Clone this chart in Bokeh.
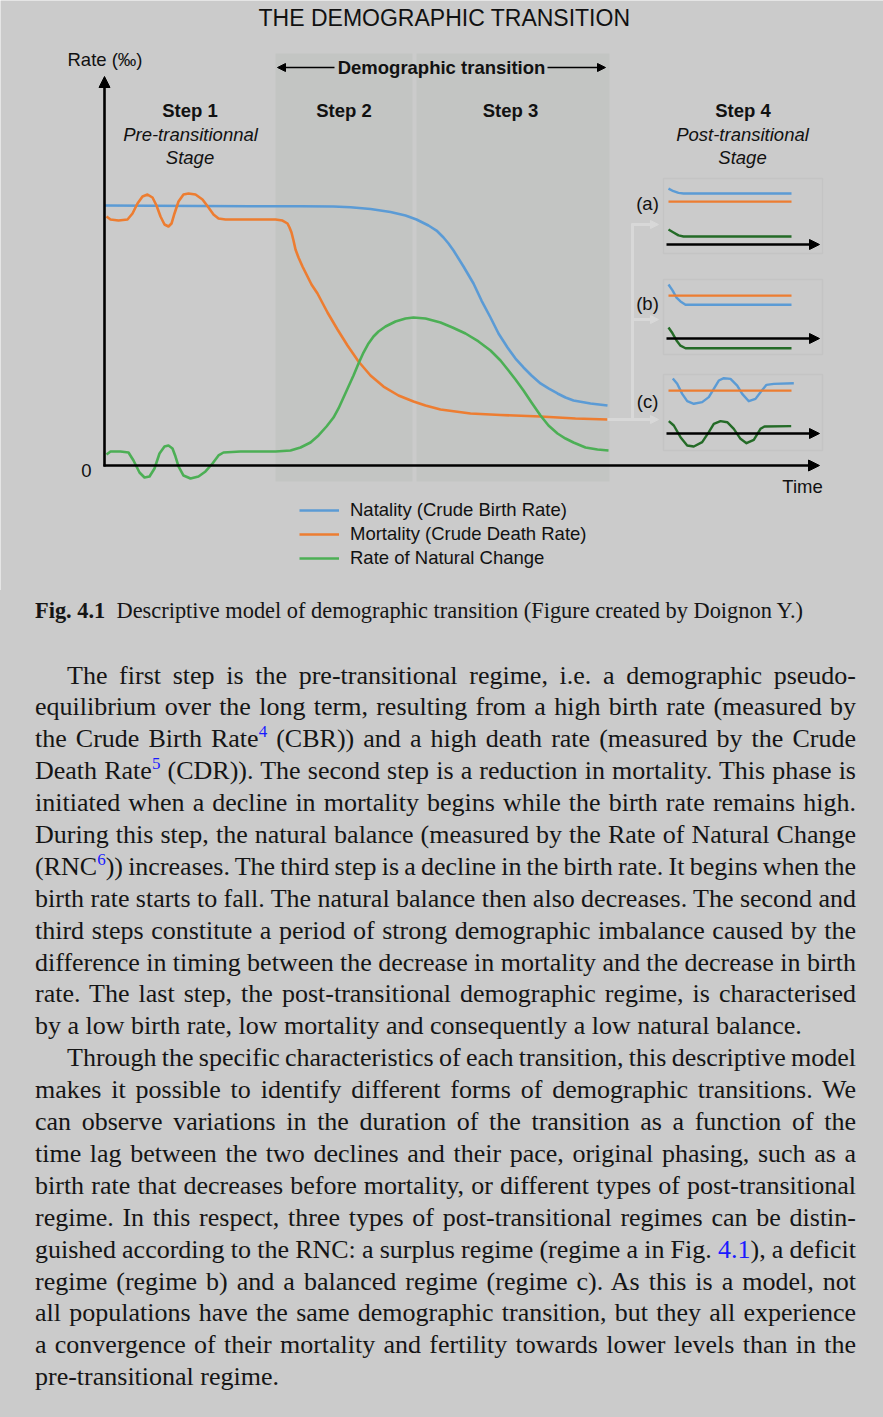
from bokeh.plotting import figure
from bokeh.models import (Range1d, Label, Arrow, NormalHead, Legend, LegendItem, Div)
from bokeh.layouts import column
from bokeh.embed import file_html
from bokeh.resources import INLINE

# ---------------- data (time units, rate in per mille) ----------------
natality_t = [0, 9.2, 19.2, 29.2, 39.2, 45.8, 49.2, 53.2, 57.2, 60.2, 62.4, 64.8, 66.4, 67.8,
              68.8, 69.8, 71.8, 73.8, 75.4, 77.2, 78.8, 80.6, 82.2, 83.8, 85.4, 87.2, 88.8,
              90.6, 92.2, 93.8, 97.2, 100.6]
natality_r = [40.0, 39.95, 39.92, 39.89, 39.88, 39.85, 39.72, 39.46, 39.0, 38.46, 37.85, 36.92,
              36.15, 35.08, 34.15, 33.08, 30.62, 28.0, 25.38, 22.77, 20.31, 18.15, 16.46, 15.08,
              13.85, 12.62, 11.85, 11.08, 10.46, 10.0, 9.54, 9.23]

mortality_t = [0.4, 1.2, 2.8, 4.6, 5.6, 6.6, 7.6, 8.6, 9.6, 10.4, 11.2, 12.0, 12.8, 13.4, 14.0,
               14.8, 15.8, 16.8, 18.2, 19.6, 20.8, 21.8, 22.8, 24.2, 29.2, 34.2, 35.6, 36.6,
               37.0, 37.4, 37.8, 38.2, 38.8, 39.6, 40.4, 41.4, 42.6, 44.6, 46.6, 48.6, 50.8,
               53.2, 55.8, 58.8, 61.8, 64.2, 67.2, 73.2, 79.2, 87.2, 94.2, 100.6]
mortality_r = [38.31, 37.85, 37.69, 37.85, 38.77, 40.31, 41.38, 41.69, 41.23, 40.0, 38.31, 37.08,
               36.77, 37.23, 38.77, 40.62, 41.69, 41.85, 41.69, 40.92, 39.69, 38.62, 38.0, 37.85,
               37.85, 37.85, 37.69, 37.23, 36.62, 35.85, 34.62, 33.23, 32.0, 30.62, 29.38,
               27.85, 26.46, 23.54, 20.92, 18.46, 16.0, 13.85, 12.15, 10.77, 9.85, 9.23, 8.62,
               8.0, 7.77, 7.54, 7.23, 7.08]

rnc_t = [0.4, 1.2, 3.2, 4.8, 5.8, 7.0, 8.0, 9.0, 10.0, 11.0, 12.0, 12.8, 13.6, 14.2, 14.8, 15.8,
         17.2, 18.8, 20.2, 21.6, 22.8, 23.8, 27.2, 34.2, 37.2, 39.2, 41.2, 42.8, 44.4, 45.8,
         46.8, 47.8, 48.8, 49.8, 50.8, 51.8, 52.8, 53.8, 54.8, 56.2, 58.2, 60.2, 61.8, 64.2,
         67.2, 69.6, 72.2, 74.8, 77.2, 79.2, 80.8, 82.2, 83.8, 85.4, 87.2, 88.8, 90.6, 92.2,
         93.8, 96.2, 98.6, 100.8]
rnc_r = [1.69, 2.15, 2.15, 2.0, 0.77, -1.08, -1.85, -1.69, -0.46, 1.85, 2.92, 3.08, 2.62, 1.38,
         -0.15, -1.54, -2.0, -1.69, -0.92, 0.31, 1.54, 2.0, 2.15, 2.15, 2.31, 2.77, 3.54, 4.62,
         6.0, 7.38, 8.77, 10.46, 12.15, 13.85, 15.69, 17.38, 18.77, 19.85, 20.62, 21.38, 22.15,
         22.62, 22.77, 22.62, 22.0, 21.23, 20.31, 19.08, 17.69, 16.15, 14.62, 13.23, 11.54,
         9.69, 7.69, 6.15, 4.92, 4.15, 3.54, 2.77, 2.46, 2.31]

# post-transitional regimes (local time / rate units)
nat_a_u = [0.4, 1.4, 2.4, 3.4, 25.0]
nat_a_v = [8.6, 8.2, 7.95, 7.85, 7.85]
mort_a_u = [0.4, 25.0]
mort_a_v = [6.6, 6.6]
rnc_a_u = [0.4, 1.4, 2.4, 3.4, 25.0]
rnc_a_v = [2.3, 1.85, 1.4, 1.23, 1.23]

nat_b_u = [0.4, 1.2, 2.0, 2.8, 3.8, 25.0]
nat_b_v = [8.3, 7.4, 6.3, 5.7, 5.2, 5.2]
mort_b_u = [0.4, 25.0]
mort_b_v = [6.6, 6.6]
rnc_b_u = [0.4, 1.2, 2.0, 2.8, 3.8, 25.0]
rnc_b_v = [1.7, 0.8, -0.3, -1.1, -1.5, -1.5]

nat_c_u = [1.26, 2.14, 3.14, 4.14, 5.46, 7.14, 8.46, 9.46, 10.46, 11.46, 12.8, 14.14, 15.14,
           16.46, 17.8, 18.8, 20.0, 21.46, 25.46]
nat_c_v = [8.46, 7.65, 6.1, 4.97, 4.57, 4.82, 5.6, 6.87, 8.15, 8.51, 8.41, 7.38, 6.1, 4.97,
           5.33, 6.36, 7.49, 7.64, 7.74]
mort_c_u = [0.4, 25.0]
mort_c_v = [6.6, 6.6]
rnc_c_u = [0.46, 1.46, 2.8, 4.14, 5.46, 7.14, 8.46, 9.46, 10.8, 12.14, 13.46, 14.8, 16.0, 17.46,
           18.8, 19.6, 24.94]
rnc_c_v = [1.9, 1.23, -0.56, -1.85, -2.0, -1.33, 0.21, 1.49, 1.9, 1.74, 0.72, -0.82, -1.49,
           -0.97, 0.72, 1.08, 1.13]

step_labels = ["Step 1", "Step 2", "Step 3", "Step 4"]
legend_labels = ["Natality (Crude Birth Rate)", "Mortality (Crude Death Rate)",
                 "Rate of Natural Change"]

# ---------------- styling ----------------
BG = "#cbcbcb"
BAND = "#c3c5c3"
BLUE = "#5b9bd5"
ORANGE = "#ed7d31"
GREEN = "#4caf55"
DKGREEN = "#246b27"
LIGHT = "#d8d8d8"
INK = "#111111"
SANS = "Liberation Sans"

PAGE_W, PAGE_H = 883, 1417
W, H = PAGE_W, 590


def tx(px):
    return (px - 104) / 5.0


def ry(py):
    return (465 - py) / 6.5


p = figure(width=W, height=H, title=None,
           x_range=Range1d(tx(0), tx(W)), y_range=Range1d(ry(H), ry(0)),
           output_backend="svg", toolbar_location=None,
           x_axis_location=None, y_axis_location=None, min_border=0,
           background_fill_color=BG, border_fill_color=BG, outline_line_color=None)
p.xgrid.visible = False
p.ygrid.visible = False

# bands for steps 2 and 3
p.quad(left=[tx(275), tx(416)], right=[tx(412), tx(609)],
       bottom=[ry(481), ry(481)], top=[ry(53), ry(53)],
       fill_color=BAND, line_color=None)

# connectors to the post-transitional panels
p.segment(x0=[tx(632)], y0=[ry(223)], x1=[tx(632)], y1=[ry(420)],
          line_color=LIGHT, line_width=3)
for (xa, ya) in [(631, 224), (631, 319), (607, 419)]:
    p.add_layout(Arrow(end=NormalHead(size=8, fill_color=LIGHT, line_color=LIGHT),
                       x_start=tx(xa), y_start=ry(ya), x_end=tx(658), y_end=ry(ya),
                       line_color=LIGHT, line_width=3))

# main curves
rb = p.line(natality_t, natality_r, line_color=BLUE, line_width=2.6, line_join="round")
ro = p.line(mortality_t, mortality_r, line_color=ORANGE, line_width=2.6, line_join="round")
rg = p.line(rnc_t, rnc_r, line_color=GREEN, line_width=2.6, line_join="round")

# axes with arrows
p.add_layout(Arrow(end=NormalHead(size=11, fill_color="black", line_color="black"),
                   x_start=0, y_start=ry(466), x_end=0, y_end=ry(76),
                   line_color="black", line_width=2.6))
p.add_layout(Arrow(end=NormalHead(size=11, fill_color="black", line_color="black"),
                   x_start=tx(103), y_start=0, x_end=tx(819), y_end=0,
                   line_color="black", line_width=2.6))

# post-transitional panels
panels = [
    (ry(244), ry(178), ry(253), nat_a_u, nat_a_v, mort_a_u, mort_a_v, rnc_a_u, rnc_a_v, "(a)", 203),
    (ry(338), ry(279), ry(354), nat_b_u, nat_b_v, mort_b_u, mort_b_v, rnc_b_u, rnc_b_v, "(b)", 303),
    (ry(433), ry(374), ry(450), nat_c_u, nat_c_v, mort_c_u, mort_c_v, rnc_c_u, rnc_c_v, "(c)", 401),
]
t0 = tx(666)
for (r0, top, bot, nu, nv, mu, mv, gu, gv, lab, ly) in panels:
    p.quad(left=[tx(663)], right=[tx(822)], top=[top], bottom=[bot],
           fill_color=None, line_color="#c4c4c4", line_width=1.5)
    p.line([t0 + u for u in nu], [r0 + v for v in nv], line_color=BLUE, line_width=2.4,
           line_join="round")
    p.line([t0 + u for u in mu], [r0 + v for v in mv], line_color=ORANGE, line_width=2.4)
    p.line([t0 + u for u in gu], [r0 + v for v in gv], line_color=DKGREEN, line_width=2.4,
           line_join="round")
    p.add_layout(Arrow(end=NormalHead(size=10, fill_color="black", line_color="black"),
                       x_start=t0, y_start=r0, x_end=tx(819), y_end=r0,
                       line_color="black", line_width=2.4))
    p.add_layout(Label(x=tx(647), y=ry(ly), text=lab, text_font=SANS,
                       text_font_size="18.5px", text_align="center",
                       text_baseline="middle", text_color=INK))

# demographic transition arrows
p.add_layout(Arrow(end=NormalHead(size=8, fill_color="black", line_color="black"),
                   x_start=tx(334), y_start=ry(67), x_end=tx(277), y_end=ry(67),
                   line_color="black", line_width=1.6))
p.add_layout(Arrow(end=NormalHead(size=8, fill_color="black", line_color="black"),
                   x_start=tx(547), y_start=ry(67), x_end=tx(605), y_end=ry(67),
                   line_color="black", line_width=1.6))


def label(text, xpx, ypx, size="18.5px", style="normal", align="center"):
    p.add_layout(Label(x=tx(xpx), y=ry(ypx), text=text, text_font=SANS,
                       text_font_size=size, text_font_style=style, text_align=align,
                       text_baseline="middle", text_color=INK))


label("THE DEMOGRAPHIC TRANSITION", 444, 17, size="23px")
label("Demographic transition", 441, 67, style="bold")
label("Rate (\u2030)", 104.5, 59)
label("0", 86, 470)
label("Time", 802, 486)
label(step_labels[0], 189.5, 110, style="bold")
label("Pre-transitionnal", 190, 134, style="italic")
label("Stage", 189.5, 157, style="italic")
label(step_labels[1], 343.5, 110, style="bold")
label(step_labels[2], 510, 110, style="bold")
label(step_labels[3], 742.5, 110, style="bold")
label("Post-transitional", 742, 134, style="italic")
label("Stage", 742, 157, style="italic")

legend = Legend(items=[LegendItem(label=legend_labels[0], renderers=[rb]),
                       LegendItem(label=legend_labels[1], renderers=[ro]),
                       LegendItem(label=legend_labels[2], renderers=[rg])],
                location=(299, 21), orientation="vertical",
                glyph_width=40, glyph_height=20, label_height=20, label_standoff=11,
                spacing=2, padding=0, margin=0, border_line_color=None,
                background_fill_alpha=0, label_text_font=SANS,
                label_text_font_size="18.5px", label_text_color=INK)
p.add_layout(legend)

# ---------------- caption and body text ----------------
SERIF = "'Liberation Serif', 'Times New Roman', serif"
BLUE_LINK = "#1a1aff"


def sup(n):
    return (f'<span style="color:{BLUE_LINK};font-size:17px;vertical-align:super;'
            f'line-height:0">{n}</span>')


para1 = [
    "The first step is the pre-transitional regime, i.e. a demographic pseudo-",
    "equilibrium over the long term, resulting from a high birth rate (measured by",
    f"the Crude Birth Rate{sup(4)} (CBR)) and a high death rate (measured by the Crude",
    f"Death Rate{sup(5)} (CDR)). The second step is a reduction in mortality. This phase is",
    "initiated when a decline in mortality begins while the birth rate remains high.",
    "During this step, the natural balance (measured by the Rate of Natural Change",
    f"(RNC{sup(6)})) increases. The third step is a decline in the birth rate. It begins when the",
    "birth rate starts to fall. The natural balance then also decreases. The second and",
    "third steps constitute a period of strong demographic imbalance caused by the",
    "difference in timing between the decrease in mortality and the decrease in birth",
    "rate. The last step, the post-transitional demographic regime, is characterised",
    "by a low birth rate, low mortality and consequently a low natural balance.",
]
para2 = [
    "Through the specific characteristics of each transition, this descriptive model",
    "makes it possible to identify different forms of demographic transitions. We",
    "can observe variations in the duration of the transition as a function of the",
    "time lag between the two declines and their pace, original phasing, such as a",
    "birth rate that decreases before mortality, or different types of post-transitional",
    "regime. In this respect, three types of post-transitional regimes can be distin-",
    f'guished according to the RNC: a surplus regime (regime a in Fig. <span style="color:{BLUE_LINK}">4.1</span>), a deficit',
    "regime (regime b) and a balanced regime (regime c). As this is a model, not",
    "all populations have the same demographic transition, but they all experience",
    "a convergence of their mortality and fertility towards lower levels than in the",
    "pre-transitional regime.",
]


def para_html(lines):
    out = []
    n = len(lines)
    for i, ln in enumerate(lines):
        indent = "text-indent:32px;" if i == 0 else ""
        if i == n - 1:
            al = "text-align:left;text-align-last:left;"
        else:
            al = "text-align:justify;text-align-last:justify;word-spacing:-3px;"
        out.append(f'<div style="{al}{indent}height:31.9px;overflow:visible">{ln}</div>')
    return "".join(out)


html = (
    f'<div style="font-family:{SERIF};color:#151515;width:{W}px;">'
    f'<div style="margin:7.2px 0 0 35px;font-size:22.4px;line-height:28px;white-space:nowrap">'
    f'<b>Fig. 4.1</b>&ensp;Descriptive model of demographic transition (Figure created by Doignon Y.)</div>'
    f'<div style="margin:34.4px 0 0 35px;width:821px;font-size:26px;line-height:31.9px">'
    f'{para_html(para1)}{para_html(para2)}</div>'
    f'</div>'
)

div = Div(text=html, width=W, height=PAGE_H - H, margin=0,
          styles={"background-color": BG})

layout = column(p, div, spacing=0)
open("out.html", "w").write(file_html(layout, INLINE))
